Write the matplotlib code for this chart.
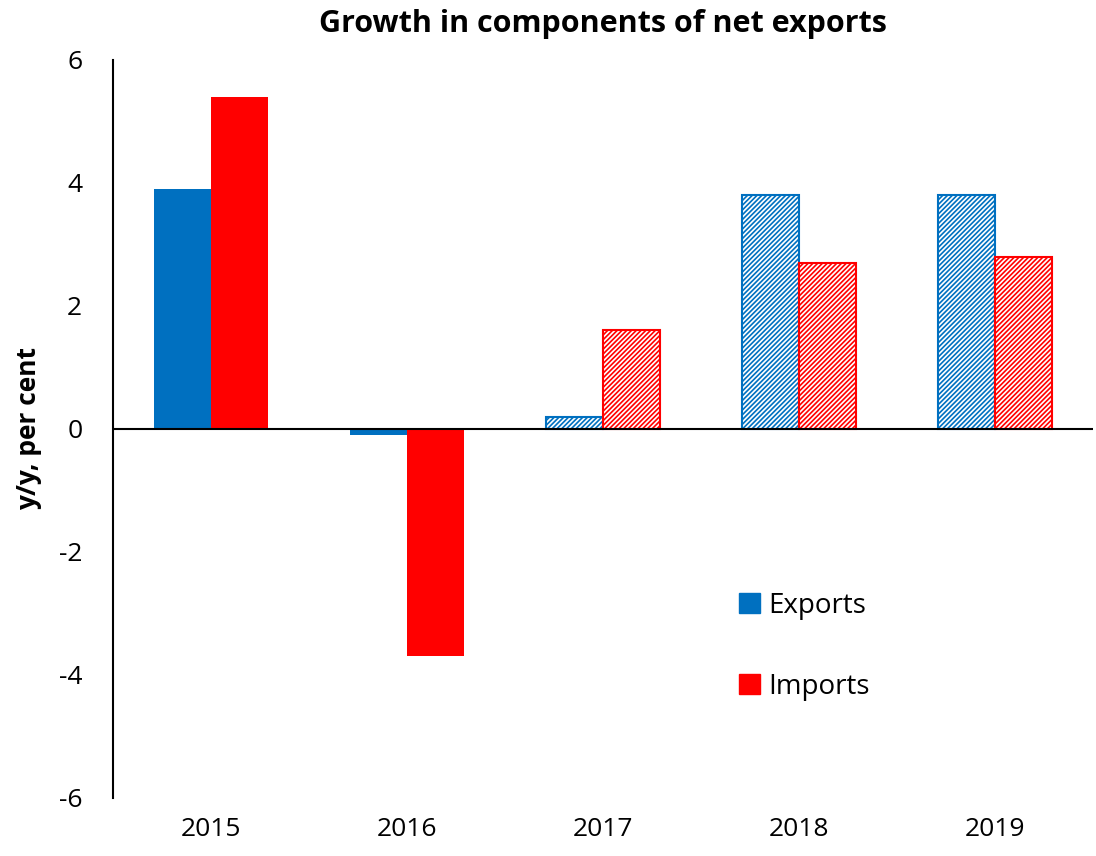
import matplotlib
matplotlib.use("Agg")
import matplotlib.pyplot as plt
from matplotlib.patches import Patch
import numpy as np

years = ["2015", "2016", "2017", "2018", "2019"]
exports = [3.9, -0.1, 0.2, 3.8, 3.8]
imports = [5.4, -3.7, 1.6, 2.7, 2.8]
forecast = [False, False, True, True, True]

blue = "#0070C0"
red = "#FF0000"

plt.rcParams["font.family"] = ["Open Sans", "DejaVu Sans"]
plt.rcParams["hatch.linewidth"] = 1.2

fig = plt.figure(figsize=(10.96, 8.56), dpi=100)
ax = fig.add_axes([0.103, 0.068, 0.894, 0.862])

x = np.arange(len(years))
w = 0.29
for i in range(len(years)):
    for val, col, off in ((exports[i], blue, -w / 2), (imports[i], red, w / 2)):
        if forecast[i]:
            ax.bar(x[i] + off, val, width=w, facecolor="white", edgecolor=col,
                   hatch="///////", linewidth=1.5, zorder=2)
        else:
            ax.bar(x[i] + off, val, width=w, color=col, linewidth=0, zorder=2)

ax.set_xlim(-0.5, len(years) - 0.5)
ax.set_ylim(-6, 6)
ax.set_yticks([-6, -4, -2, 0, 2, 4, 6])
ax.set_yticklabels(["-6", "-4", "-2", "0", "2", "4", "6"])
ax.set_xticks(x)
ax.set_xticklabels(years)
ax.tick_params(axis="both", length=0, labelsize=19)
ax.tick_params(axis="y", pad=22)
ax.tick_params(axis="x", pad=14)

for s in ("top", "right", "bottom"):
    ax.spines[s].set_visible(False)
ax.spines["left"].set_linewidth(1.5)
ax.axhline(0, color="black", linewidth=1.5, zorder=3)

ax.set_ylabel("y/y, per cent", fontsize=19, fontweight="bold", labelpad=12)
ax.set_title("Growth in components of net exports", fontsize=22,
             fontweight="bold", pad=20)

handles = [Patch(facecolor=blue, edgecolor=blue, label="Exports"),
           Patch(facecolor=red, edgecolor=red, label="Imports")]
ax.legend(handles=handles, loc="upper left", bbox_to_anchor=(0.614, 0.313),
          frameon=False, fontsize=20, handlelength=0.75, handleheight=0.75,
          handletextpad=0.3, labelspacing=1.9)

fig.savefig("out.png", dpi=100)
